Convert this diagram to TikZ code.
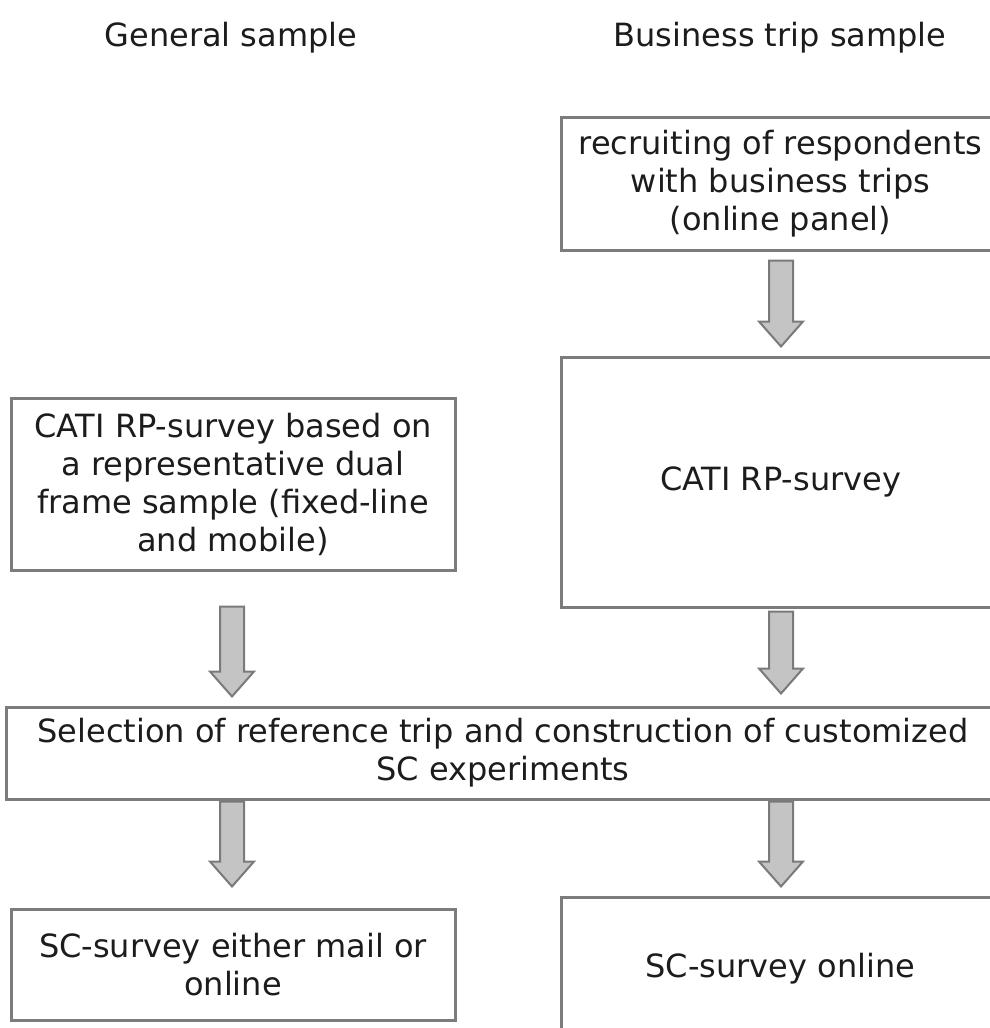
\documentclass[tikz,border=0pt]{standalone}
\usepackage{fontspec}
\setmainfont{DejaVu Sans}
\usetikzlibrary{calc}
\definecolor{boxline}{HTML}{7C7C7C}
\definecolor{txt}{HTML}{1C1C1C}
\definecolor{arrfill}{HTML}{C4C4C4}
\definecolor{arrline}{HTML}{7A7A7A}
\tikzset{
  box/.style={draw=boxline, line width=3pt, fill=white, rectangle, inner sep=0pt,
    align=center, text=txt, font=\fontsize{32}{38}\selectfont},
  heading/.style={text=txt, font=\fontsize{32}{38}\selectfont, inner sep=0pt},
  blockarrow/.style={fill=arrfill, draw=arrline, line width=2pt, line join=miter}
}
\newcommand\blockarr[2]{%
  \draw[blockarrow] let \p1=(#1), \p2=(#2) in
    (\x1-12pt,\y1) -- (\x1+12pt,\y1) -- (\x1+12pt,\y2+25pt) -- (\x1+22pt,\y2+25pt)
    -- (\x1,\y2) -- (\x1-22pt,\y2+25pt) -- (\x1-12pt,\y2+25pt) -- cycle;}
\begin{document}
\begin{tikzpicture}[x=1pt,y=-1pt]
\useasboundingbox (0,0) rectangle (990,1028);
\fill[white] (0,0) rectangle (990,1028);
\begin{scope}
\clip (0,0) rectangle (990,1028);
% headings
\node[heading] (h1) at (231,38) {General sample};
\node[heading] (h2) at (780,38) {Business trip sample};
% boxes
\node[box, minimum width=439pt, minimum height=133pt] (rec) at (780.5,183.5)
  {recruiting of respondents\\with business trips\\(online panel)};
\node[box, minimum width=439pt, minimum height=250pt] (cati2) at (780.5,482)
  {CATI RP-survey};
\node[box, minimum width=444pt, minimum height=172pt] (cati1) at (233,484)
  {CATI RP-survey based on\\a representative dual\\frame sample (fixed-line\\and mobile)};
\node[box, minimum width=994pt, minimum height=92pt] (sel) at (503,753)
  {Selection of reference trip and construction of customized\\SC experiments};
\node[box, minimum width=444pt, minimum height=111pt] (sc1) at (233,964.5)
  {SC-survey either mail or\\online};
\node[box, minimum width=439pt, minimum height=143pt] (sc2) at (780.5,968.5)
  {SC-survey online};
% arrow end points
\coordinate (a1s) at ($(rec.south)+(0.5,9)$);
\coordinate (a1e) at ($(cati2.north)+(0.5,-9)$);
\coordinate (a2s) at ($(cati1.south -| 232,0)+(0,35)$);
\coordinate (a2e) at ($(sel.north -| 232,0)+(0,-9)$);
\coordinate (a3s) at ($(cati2.south)+(0.5,3)$);
\coordinate (a3e) at ($(sel.north -| 781,0)+(0,-12)$);
\coordinate (a4s) at ($(sel.south -| 232,0)+(0,1)$);
\coordinate (a4e) at ($(sc1.north -| 232,0)+(0,-21)$);
\coordinate (a5s) at ($(sel.south -| 781,0)+(0,1)$);
\coordinate (a5e) at ($(sc2.north)+(0.5,-9)$);
\blockarr{a1s}{a1e}
\blockarr{a2s}{a2e}
\blockarr{a3s}{a3e}
\blockarr{a4s}{a4e}
\blockarr{a5s}{a5e}
\end{scope}
\end{tikzpicture}
\end{document}
